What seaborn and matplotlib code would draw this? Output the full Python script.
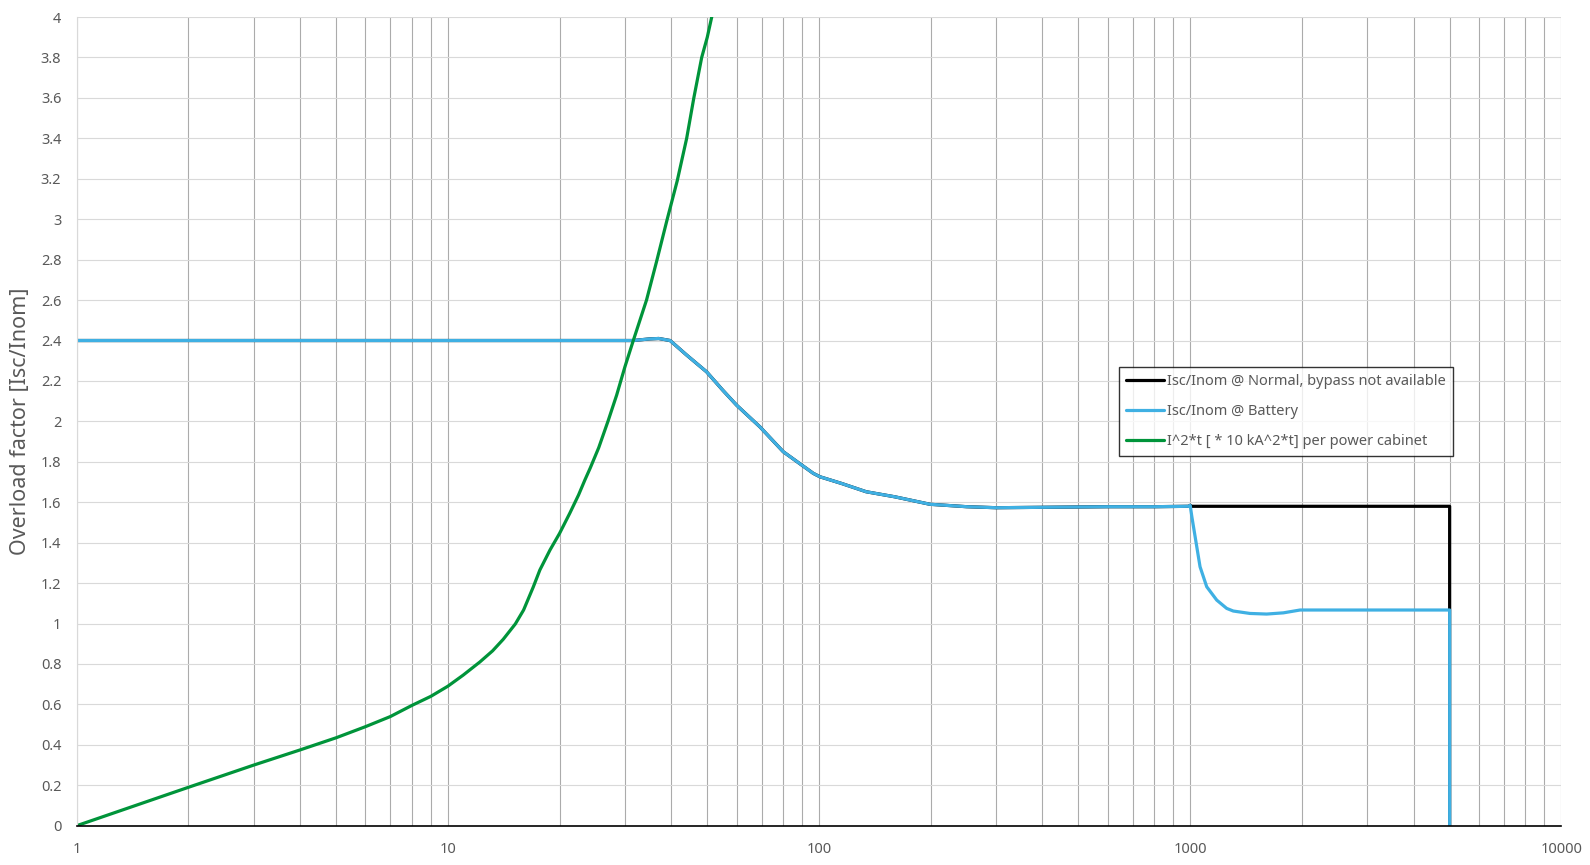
import matplotlib
matplotlib.use("Agg")
import matplotlib.pyplot as plt
import matplotlib.ticker as mticker
import pandas as pd
import seaborn as sns

# Isc/Inom, same for both modes up to 1000
t_shared = [1, 10, 20, 31.6, 35, 37, 39.7, 44, 49.8, 55, 60, 69.3, 80.1, 88.9,
            96.5, 100.6, 115, 134, 160, 199, 250, 300, 400, 600, 800, 990, 1000]
isc_shared = [2.4, 2.4, 2.4, 2.4, 2.408, 2.41, 2.40, 2.328, 2.245, 2.155, 2.08,
              1.973, 1.85, 1.79, 1.743, 1.726, 1.693, 1.652, 1.627, 1.59, 1.578,
              1.573, 1.575, 1.578, 1.578, 1.58, 1.585]

# tails after 1000
t_normal = [1010, 5000, 5000]
isc_normal = [1.58, 1.58, 0]
t_battery = [1010, 1031, 1063, 1108, 1179, 1254, 1306, 1449, 1607, 1783, 1977,
             3000, 5000, 5000]
isc_battery = [1.53, 1.43, 1.281, 1.182, 1.116, 1.075, 1.062, 1.05, 1.047, 1.053,
               1.067, 1.067, 1.067, 0]

# I^2*t per power cabinet
t_green = [1, 2, 3, 4, 5, 6, 7, 8, 9, 10, 11, 12.2, 13.2, 14.1, 15.2, 16, 17,
           17.7, 18.85, 20, 21.3, 22.5, 23.4, 24.2, 25.5, 27, 28.5, 30, 31.6,
           34.3, 36.5, 39, 41.5, 44, 46, 48.3, 50, 51.4, 53]
i2t_green = [0, 0.19, 0.30, 0.375, 0.435, 0.49, 0.54, 0.595, 0.64, 0.69, 0.745,
             0.81, 0.865, 0.922, 0.998, 1.067, 1.182, 1.265, 1.364, 1.446, 1.545,
             1.636, 1.71, 1.77, 1.87, 2.0, 2.13, 2.27, 2.4, 2.6, 2.79, 3.0, 3.19,
             3.4, 3.6, 3.8, 3.9, 4.0, 4.15]

labels = ["Isc/Inom @ Normal, bypass not available",
          "Isc/Inom @ Battery",
          "I^2*t [ * 10 kA^2*t] per power cabinet"]
colors = ["#000000", "#3fb0e3", "#00943a"]

df = pd.concat([
    pd.DataFrame({"t": t_shared + t_normal, "v": isc_shared + isc_normal, "s": labels[0]}),
    pd.DataFrame({"t": t_shared + t_battery, "v": isc_shared + isc_battery, "s": labels[1]}),
    pd.DataFrame({"t": t_green, "v": i2t_green, "s": labels[2]}),
], ignore_index=True)

sns.set_style("white")
plt.rcParams["font.family"] = ["Noto Sans", "DejaVu Sans"]

fig = plt.figure(figsize=(15.9, 8.65), dpi=100)
ax = fig.add_axes([0.0482, 0.0454, 0.9338, 0.9349])

sns.lineplot(data=df, x="t", y="v", hue="s", palette=colors, sort=False,
             estimator=None, linewidth=2.3, legend=False, ax=ax)

ax.set_xscale("log")
ax.set_xlim(1, 10000)
ax.set_ylim(0, 4)
ax.yaxis.set_major_locator(mticker.MultipleLocator(0.2))
ax.yaxis.set_major_formatter(mticker.FuncFormatter(lambda v, p: "%g" % round(v, 1)))
ax.xaxis.set_major_formatter(mticker.FuncFormatter(lambda v, p: "%g" % v))
ax.xaxis.set_minor_formatter(mticker.NullFormatter())

ax.set_axisbelow(True)
ax.grid(which="both", axis="x", color="#ababab", linewidth=0.8)
ax.grid(which="major", axis="y", color="#d9d9d9", linewidth=0.8)

for side in ["top", "right"]:
    ax.spines[side].set_visible(False)
ax.spines["left"].set_color("#d9d9d9")
ax.spines["left"].set_linewidth(0.8)
ax.spines["bottom"].set_color("black")
ax.spines["bottom"].set_linewidth(1.2)

ax.tick_params(axis="both", which="both", length=0, labelsize=10.5, labelcolor="#595959")
ax.tick_params(axis="y", pad=11)
ax.tick_params(axis="x", pad=12)

ax.set_xlabel("")
ax.set_ylabel("Overload factor [Isc/Inom]", fontsize=15.5, color="#595959")
ax.yaxis.set_label_coords(-0.031, 0.5)

leg = ax.legend(ax.lines[:3], labels, loc="upper left", bbox_to_anchor=(0.702, 0.567),
                borderaxespad=0, fancybox=False, frameon=True, fontsize=10.5,
                handlelength=2.6, handletextpad=0.2, labelspacing=1.0,
                borderpad=0.5)
leg.get_frame().set_edgecolor("black")
leg.get_frame().set_linewidth(1.0)
for txt in leg.get_texts():
    txt.set_color("#595959")

fig.savefig("out.png", dpi=100)
